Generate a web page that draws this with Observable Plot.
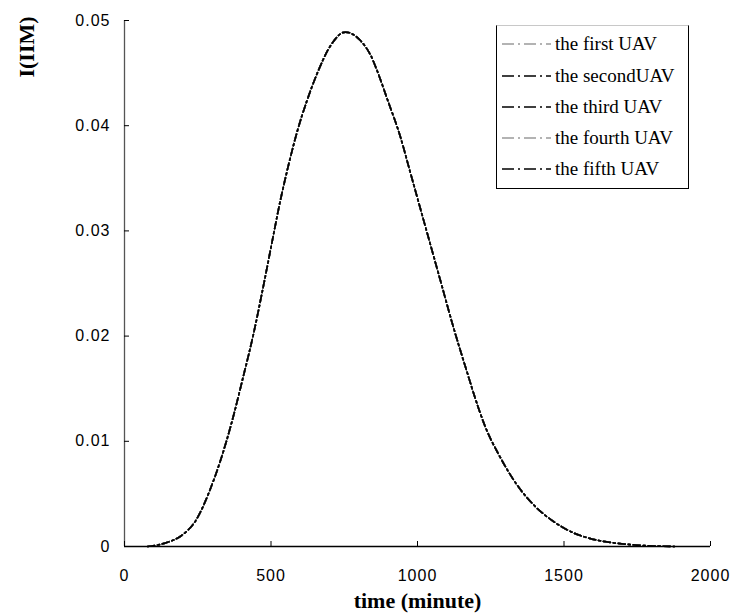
<!DOCTYPE html>
<html><head><meta charset="utf-8">
<script src="https://cdn.jsdelivr.net/npm/d3@7"></script>
<script src="https://cdn.jsdelivr.net/npm/@observablehq/plot@0.6"></script>
<style>
body{margin:0;background:#fff;}
#wrap{position:relative;width:732px;height:614px;}
#legend{position:absolute;left:496px;top:25px;width:191px;height:162px;border:1px solid #000;border-top-color:#c8c8c8;background:#fff;font-family:"Liberation Serif","Times New Roman",serif;font-size:19px;color:#000;}
.row{position:absolute;left:5px;height:22px;display:flex;align-items:center;white-space:nowrap;}
.row svg{margin-right:4px;display:block;}
#ytitle{position:absolute;left:27px;top:47px;transform:translate(-50%,-50%) rotate(-90deg);font-family:"Liberation Serif","Times New Roman",serif;font-weight:bold;font-size:22px;white-space:nowrap;line-height:1;}
[aria-label="y-axis tick label"] text,[aria-label="x-axis tick label"] text{letter-spacing:1px;}
</style></head><body><div id="wrap"><div id="legend"></div><div id="ytitle">I(IIM)</div></div>
<script>
// time (minute)
const time = [79,147,195,244,292,329,365,404,441,475,504,532,561,589,623,658,703,754,805,840,868,896,942,976,1010,1044,1078,1124,1170,1198,1231,1280,1341,1402,1463,1524,1584,1683,1768,1877];
// I(IIM) (all five UAV curves coincide)
const iim = [0,0.0004,0.00105,0.0025,0.0054,0.0083,0.0117,0.0160,0.0203,0.0249,0.0290,0.0329,0.0364,0.0394,0.0424,0.0450,0.0476,0.0489,0.0481,0.0467,0.0448,0.0426,0.0389,0.0355,0.0321,0.0287,0.0253,0.0207,0.0165,0.0140,0.0114,0.0086,0.0058,0.0038,0.0024,0.0014,0.0008,0.0003,0.0001,0];
const uav1 = iim.slice(), uav2 = iim.slice(), uav3 = iim.slice(), uav4 = iim.slice(), uav5 = iim.slice();
const uavNames = ["the first UAV","the secondUAV","the third UAV","the fourth UAV","the fifth UAV"];
const uavSeries = [uav1, uav2, uav3, uav4, uav5];
const xTicks = [0,500,1000,1500,2000];
const yTicks = [0,0.01,0.02,0.03,0.04,0.05];
const xTitle = "time (minute)";

const colors = ["#9a9a9a","#000","#000","#9a9a9a","#000"];
const dash = "7,3,2,3";

const rows = uavNames.flatMap((name,i)=>time.map((t,j)=>({series:name,t,v:uavSeries[i][j]})));

const chart = Plot.plot({
  width:732, height:614,
  marginLeft:124, marginRight:22, marginTop:20, marginBottom:68,
  x:{domain:[0,2000]},
  y:{domain:[0,0.05]},
  color:{domain:uavNames, range:colors},
  style:{fontFamily:"'Liberation Sans', Arial, sans-serif", fontSize:"16px", color:"#000", background:"#fff"},
  marks:[
    Plot.line(rows,{x:"t",y:"v",z:"series",stroke:"series",strokeDasharray:dash,strokeWidth:1.7,curve:"monotone-x"}),
    Plot.ruleX([0],{stroke:"#555",strokeWidth:1.3}),
    Plot.ruleY([0],{stroke:"#000",strokeWidth:1.5}),
    Plot.axisY(yTicks,{tickSize:-5,tickPadding:19,label:null,fontSize:16,tickFormat:d=>d===0?"0":d.toFixed(2)}),
    Plot.axisX(xTicks,{tickSize:-5,tickPadding:28,label:null,fontSize:16,tickFormat:d=>String(d)}),
    Plot.text([xTitle],{frameAnchor:"bottom",dy:61,text:d=>d,fontFamily:"'Liberation Serif', 'Times New Roman', serif",fontWeight:"bold",fontSize:22})
  ]
});
document.getElementById("wrap").prepend(chart);

const legend = document.getElementById("legend");
const centers = [18,50,81,112,143];
uavNames.forEach((name,i)=>{
  const row = document.createElement("div");
  row.className = "row";
  row.style.top = (centers[i]-11)+"px";
  row.innerHTML = `<svg width="49" height="4"><line x1="0" y1="2" x2="49" y2="2" stroke="${colors[i]}" stroke-width="1.6" stroke-dasharray="12,4,2,4"/></svg><span>${name}</span>`;
  legend.appendChild(row);
});
</script>
</body></html>
